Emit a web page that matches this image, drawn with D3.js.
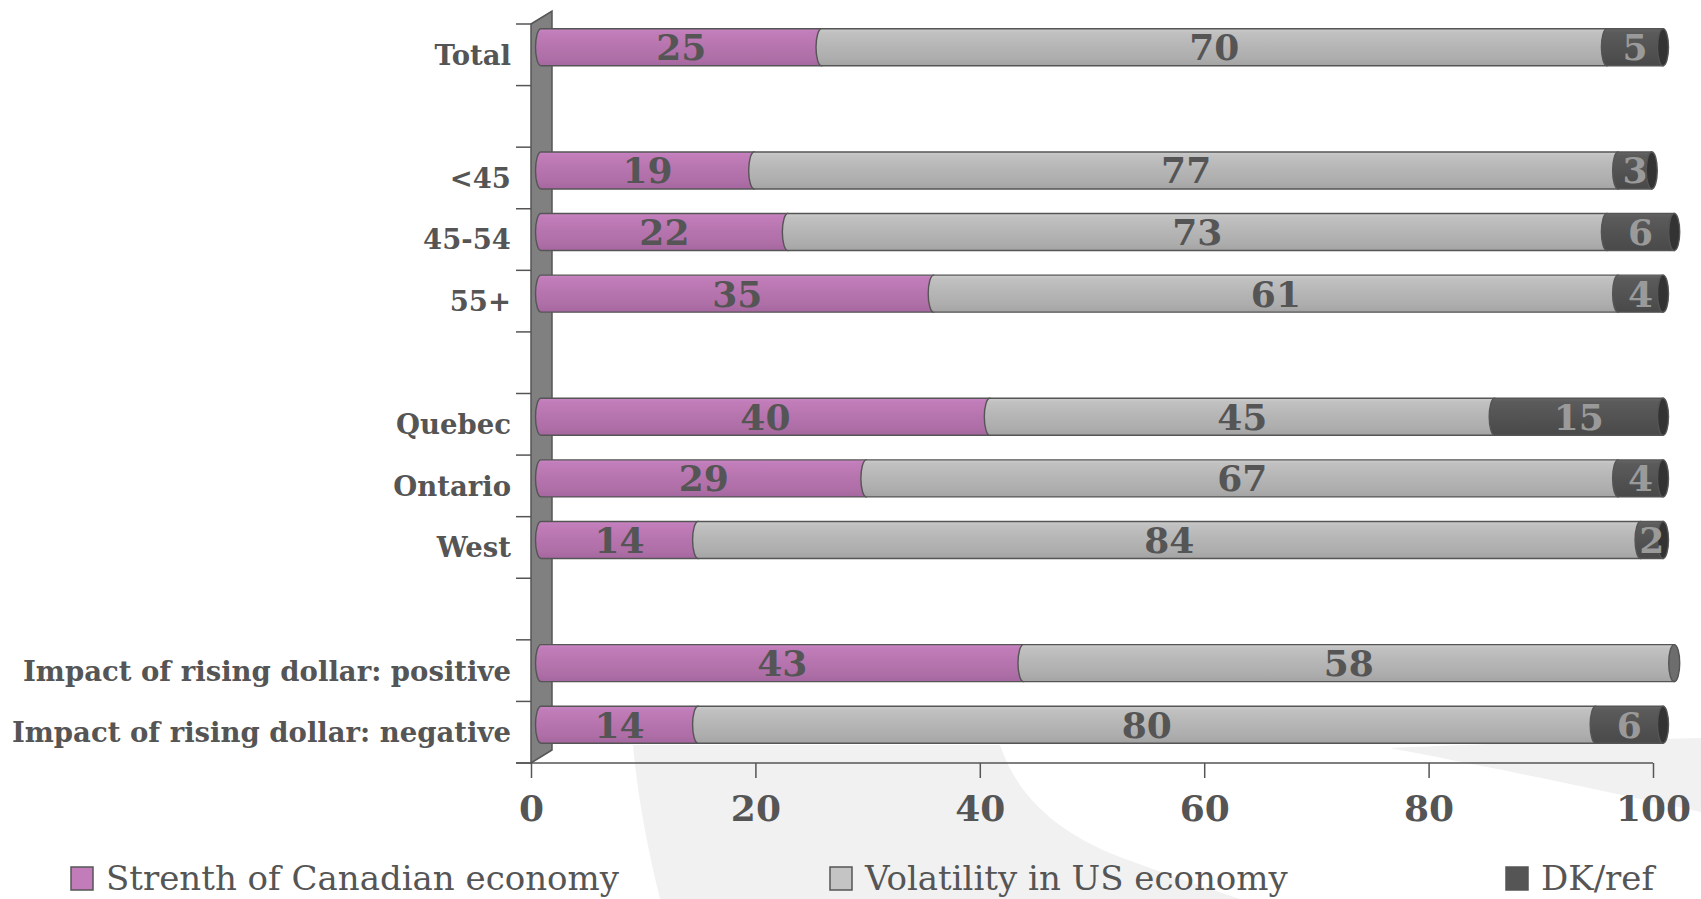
<!DOCTYPE html>
<html>
<head>
<meta charset="utf-8">
<script src="https://cdn.jsdelivr.net/npm/d3@7/dist/d3.min.js"></script>
<style>
  html, body { margin: 0; padding: 0; background: #ffffff; }
  svg { display: block; }
</style>
</head>
<body>
<svg id="chart" width="1701" height="899"></svg>
<script>
// ---- data ----
const categories = ["Total", "", "<45", "45-54", "55+", "", "Quebec", "Ontario", "West", "",
  "Impact of rising dollar: positive", "Impact of rising dollar: negative"];
const strength   = [25, null, 19, 22, 35, null, 40, 29, 14, null, 43, 14];
const volatility = [70, null, 77, 73, 61, null, 45, 67, 84, null, 58, 80];
const dkref      = [5,  null, 3,  6,  4,  null, 15, 4,  2,  null, 0,  6];
const seriesNames = ["Strenth of Canadian economy", "Volatility in US economy", "DK/ref"];
const xTicks = [0, 20, 40, 60, 80, 100];

(function () {
// ---- setup ----
const svg = d3.select("#chart");
const pLeft = 531, pRight = 1653, pTop = 24, pBottom = 763;
const depthX = 21, depthY = -13;
const barOffX = 10, barOffY = -7.5;
const barH = 37;
const textColor = "#555555";

const x = d3.scaleLinear().domain([0, 100]).range([pLeft, pRight]);
const y = d3.scaleBand().domain(d3.range(categories.length)).range([pTop, pBottom]).paddingInner(0).paddingOuter(0);

const defs = svg.append("defs");
const gradSpecs = [
  { id: "gPurple", stops: [[0, "#c986c3"], [0.1, "#c17db9"], [0.45, "#b775af"], [0.8, "#ae6ea6"], [1, "#a567a0"]] },
  { id: "gGray",   stops: [[0, "#cdcdcd"], [0.1, "#c1c1c1"], [0.45, "#b6b6b6"], [0.8, "#adadad"], [1, "#a4a4a4"]] },
  { id: "gDark",   stops: [[0, "#666666"], [0.1, "#5b5b5b"], [0.5, "#535353"], [1, "#494949"]] }
];
gradSpecs.forEach(g => {
  const lg = defs.append("linearGradient").attr("id", g.id).attr("x1", 0).attr("y1", 0).attr("x2", 0).attr("y2", 1);
  g.stops.forEach(s => lg.append("stop").attr("offset", s[0]).attr("stop-color", s[1]));
});
const fills = ["url(#gPurple)", "url(#gGray)", "url(#gDark)"];
const capFills = ["#8e5587", "#6d6d6d", "#333333"];
const labelColors = [textColor, textColor, "#9a9a9a"];
const legendFills = ["#c27cba", "#c4c4c4", "#555555"];

// ---- background swoosh (decoration) ----
svg.append("path")
  .attr("d", "M633,745 L1000,745 C1015,790 1050,830 1120,857 C1160,872 1200,886 1240,899 L660,899 C648,850 638,800 633,745 Z")
  .attr("fill", "#f1f1f1");
svg.append("path")
  .attr("d", "M1390,748 C1480,744 1600,740 1701,738 L1701,812 C1600,790 1480,765 1390,748 Z")
  .attr("fill", "#f1f1f1");

// ---- wall ----
svg.append("path")
  .attr("d", `M${pLeft},${pTop} L${pLeft + depthX},${pTop + depthY} L${pLeft + depthX},${pBottom + depthY} L${pLeft},${pBottom} Z`)
  .attr("fill", "#808080").attr("stroke", "#555555").attr("stroke-width", 1.5);

// category ticks
const boundaries = y.domain().map(i => y(i)).concat([pBottom]);
svg.append("g").selectAll("line").data(boundaries).join("line")
  .attr("x1", pLeft - 15).attr("x2", pLeft)
  .attr("y1", d => d).attr("y2", d => d)
  .attr("stroke", "#555555").attr("stroke-width", 1.5);

// x axis
const xAxis = d3.axisBottom(x).tickValues(xTicks).tickSize(15).tickPadding(0).tickFormat(d3.format("d"));
const gx = svg.append("g").attr("transform", `translate(0,${pBottom})`).call(xAxis);
gx.select(".domain").remove();
gx.selectAll(".tick line").attr("stroke", "#555555").attr("stroke-width", 1.5);
gx.selectAll(".tick text")
  .attr("y", 58).attr("dy", 0)
  .attr("fill", textColor)
  .style("font-family", "'DejaVu Serif'").style("font-weight", "bold").style("font-size", "36px");
svg.append("line").attr("x1", pLeft - 15).attr("x2", pRight).attr("y1", pBottom).attr("y2", pBottom)
  .attr("stroke", "#555555").attr("stroke-width", 1.5);

// category labels
svg.append("g").selectAll("text").data(categories.map((c, i) => ({ c, i })).filter(d => d.c !== ""))
  .join("text")
  .attr("x", 511)
  .attr("y", d => y(d.i) + y.bandwidth() / 2)
  .attr("dy", "0.36em")
  .attr("text-anchor", "end")
  .attr("fill", textColor)
  .style("font-family", "'DejaVu Serif'").style("font-weight", "bold").style("font-size", "27.5px")
  .text(d => d.c);

// ---- bars ----
const rows = categories.map((c, i) => ({ i, c, v: [strength[i], volatility[i], dkref[i]] }))
  .filter(r => r.v[0] !== null);

const rx = 5.5;
const gBars = svg.append("g");
rows.forEach(r => {
  const yTop = y(r.i) + (y.bandwidth() - barH) / 2 + barOffY;
  const yBot = yTop + barH;
  const yMid = (yTop + yBot) / 2;
  let cum = 0;
  const segs = [];
  r.v.forEach((val, k) => {
    if (val > 0) {
      segs.push({ k, val, x0: x(cum) + barOffX, x1: x(cum + val) + barOffX });
    }
    cum += val;
  });
  const g = gBars.append("g");
  segs.forEach(s => {
    g.append("path")
      .attr("d", `M${s.x0},${yTop} L${s.x1},${yTop} L${s.x1},${yBot} L${s.x0},${yBot} A${rx},${barH / 2} 0 0 1 ${s.x0},${yTop} Z`)
      .attr("fill", fills[s.k])
      .attr("stroke", "#555555").attr("stroke-width", 1.4);
  });
  const last = segs[segs.length - 1];
  g.append("ellipse")
    .attr("cx", last.x1).attr("cy", yMid).attr("rx", rx).attr("ry", barH / 2)
    .attr("fill", capFills[last.k]).attr("stroke", "#555555").attr("stroke-width", 1.4);
  segs.forEach(s => {
    g.append("text")
      .attr("x", (s.x0 + s.x1) / 2)
      .attr("y", yMid)
      .attr("dy", "0.36em")
      .attr("text-anchor", "middle")
      .attr("fill", labelColors[s.k])
      .style("font-family", "'DejaVu Serif'").style("font-weight", "bold").style("font-size", "36px")
      .text(s.val);
  });
});

// ---- legend ----
const legendX = [71, 830, 1506];
const lgd = svg.append("g");
seriesNames.forEach((name, k) => {
  lgd.append("rect").attr("x", legendX[k]).attr("y", 867).attr("width", 22).attr("height", 23)
    .attr("fill", legendFills[k]).attr("stroke", "#555555").attr("stroke-width", 1.5);
  lgd.append("text").attr("x", legendX[k] + 35).attr("y", 890)
    .attr("fill", textColor)
    .style("font-family", "'DejaVu Serif'").style("font-size", "34px")
    .text(name);
});
})();
</script>
</body>
</html>
